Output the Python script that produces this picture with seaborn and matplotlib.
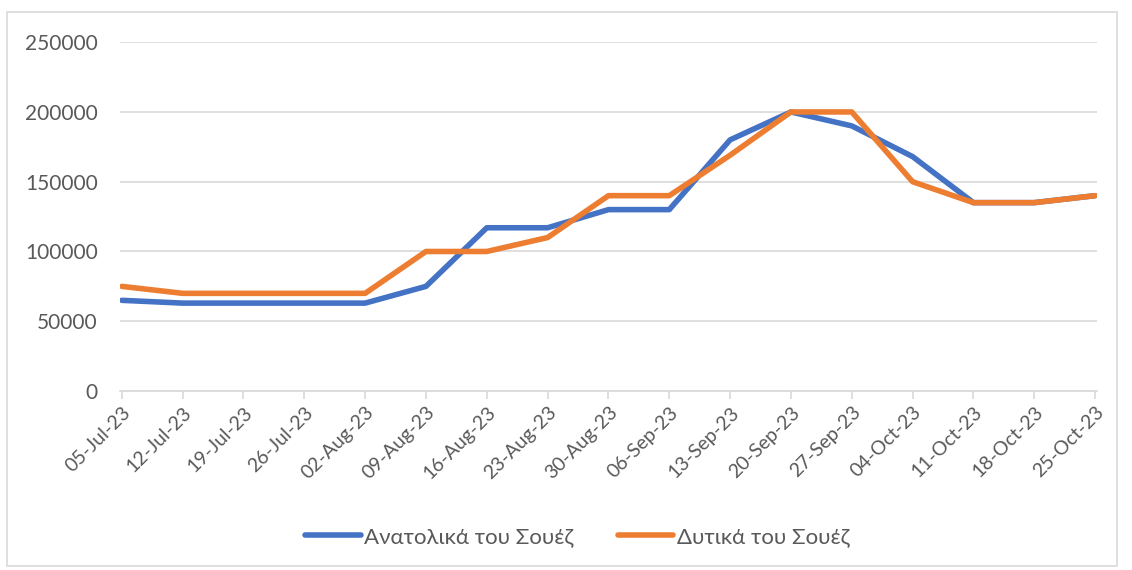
import matplotlib
matplotlib.use("Agg")
import matplotlib.pyplot as plt
import seaborn as sns
import pandas as pd
from matplotlib.patches import Rectangle

dates = ["05-Jul-23", "12-Jul-23", "19-Jul-23", "26-Jul-23", "02-Aug-23", "09-Aug-23",
         "16-Aug-23", "23-Aug-23", "30-Aug-23", "06-Sep-23", "13-Sep-23", "20-Sep-23",
         "27-Sep-23", "04-Oct-23", "11-Oct-23", "18-Oct-23", "25-Oct-23"]
east = [65000, 63000, 63000, 63000, 63000, 75000, 117000, 117000, 130000, 130000,
        180000, 200000, 190000, 168000, 135000, 135000, 140000]
west = [75000, 70000, 70000, 70000, 70000, 100000, 100000, 110000, 140000, 140000,
        169000, 200000, 200000, 150000, 135000, 135000, 140000]
series_names = ["Ανατολικά του Σουέζ", "Δυτικά του Σουέζ"]
colors = ["#4472C4", "#ED7D31"]

rows = []
for i, d in enumerate(dates):
    rows.append({"pos": i, "date": d, "value": east[i], "series": series_names[0]})
    rows.append({"pos": i, "date": d, "value": west[i], "series": series_names[1]})
df = pd.DataFrame(rows)

sns.set_theme(style="white")
plt.rcParams["font.family"] = ["Lato", "DejaVu Sans"]
txt = "#595959"

fig = plt.figure(figsize=(11.32, 5.70), dpi=100)
ax = fig.add_axes([0.106, 0.314, 0.863, 0.612])
sns.lineplot(data=df, x="pos", y="value", hue="series", palette=colors, ax=ax,
             linewidth=4, legend=True, sort=False)
for ln in ax.lines:
    ln.set_solid_capstyle("round")
    ln.set_solid_joinstyle("round")

ax.set_xlim(-0.03, 16.03)
ax.set_ylim(0, 250000)
ax.set_yticks([0, 50000, 100000, 150000, 200000, 250000])
ax.set_yticklabels(["0", "50000", "100000", "150000", "200000", "250000"])
ax.set_xticks(range(len(dates)))
ax.set_xticklabels(dates, rotation=45, ha="right", rotation_mode="anchor")
ax.grid(axis="y", color="#d9d9d9", linewidth=1.2)
ax.set_axisbelow(True)
for s in ["top", "right", "left"]:
    ax.spines[s].set_visible(False)
ax.spines["bottom"].set_color("#d9d9d9")
ax.spines["bottom"].set_linewidth(1.2)
ax.tick_params(axis="x", colors=txt, labelsize=14, length=6, width=1.2,
               color="#d9d9d9", direction="out", bottom=True, pad=3)
ax.tick_params(axis="y", colors=txt, labelsize=15, length=0, pad=16)
ax.set_xlabel("")
ax.set_ylabel("")

h, l = ax.get_legend_handles_labels()
ax.legend(h, l, loc="center", bbox_to_anchor=(0.51, 1 - 537 / 570), bbox_transform=fig.transFigure,
          ncol=2, frameon=False, fontsize=16, labelcolor=txt, handlelength=2.5,
          handletextpad=0.15, columnspacing=2.0)

fig.patches.append(Rectangle((7 / 1132, 1 - 566 / 570), 1110 / 1132, 554 / 570,
                             transform=fig.transFigure, fill=False,
                             edgecolor="#d9d9d9", linewidth=1.2))

fig.savefig("out.png", dpi=100, facecolor="white")
